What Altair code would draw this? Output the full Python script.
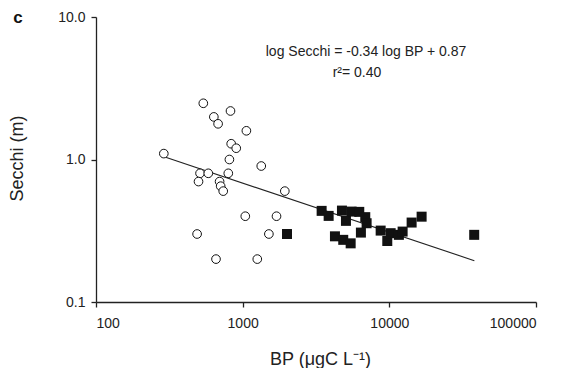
import altair as alt
import pandas as pd

# Open circles
circle_bp = [290, 539, 636, 680, 826, 1060, 835, 904, 812, 1339, 512, 583, 798,
             500, 696, 708, 737, 1938, 1042, 1701, 489, 1509, 658, 1258]
circle_secchi = [1.10, 2.48, 1.99, 1.78, 2.19, 1.59, 1.29, 1.20, 1.00, 0.90, 0.80, 0.80, 0.80,
                 0.70, 0.70, 0.65, 0.60, 0.60, 0.40, 0.40, 0.30, 0.30, 0.20, 0.20]

# Filled squares
square_bp = [2005, 3455, 3857, 4753, 5061, 5533, 6237, 6853, 7000, 6400, 4258, 4850, 5449,
             8727, 9683, 10210, 11620, 12320, 14190, 16600, 37900]
square_secchi = [0.30, 0.436, 0.402, 0.438, 0.371, 0.431, 0.429, 0.394, 0.357, 0.307, 0.289, 0.273, 0.258,
                 0.317, 0.268, 0.304, 0.296, 0.312, 0.361, 0.397, 0.296]

# Regression line endpoints
line_bp = [295, 38000]
line_secchi = [1.04, 0.195]

x_ticks = [100, 1000, 10000, 100000]
y_ticks = [0.1, 1.0, 10.0]

FONT = "Liberation Sans"

circ = pd.DataFrame({"bp": circle_bp, "secchi": circle_secchi})
sq = pd.DataFrame({"bp": square_bp, "secchi": square_secchi})
ln = pd.DataFrame({"bp": line_bp, "secchi": line_secchi})

xscale = alt.Scale(type="log", domain=[100, 100000], nice=False)
yscale = alt.Scale(type="log", domain=[0.1, 10], nice=False)

xenc = alt.X("bp:Q", scale=xscale, axis=alt.Axis(
    values=x_ticks, format="d", title="BP (μgC L⁻¹)", grid=False,
    tickSize=5, labelPadding=9, labelFontSize=14, labelFont=FONT, labelColor="#222",
    titleFont=FONT, titleFontSize=18, titleFontWeight="normal", titleColor="#222",
    titleX=224, titleY=57, titleBaseline="middle",
    domainColor="#222", tickColor="#222", domainWidth=1.3, tickWidth=1.3))
yenc = alt.Y("secchi:Q", scale=yscale, axis=alt.Axis(
    values=y_ticks, format=".1f", title="Secchi (m)", grid=False,
    tickSize=5, labelPadding=6, labelFontSize=14, labelFont=FONT, labelColor="#222",
    titleFont=FONT, titleFontSize=18, titleFontWeight="normal", titleColor="#222",
    titleX=-79, titleY=141, titleBaseline="middle", titleAlign="center", titleAngle=-90,
    domainColor="#222", tickColor="#222", domainWidth=1.3, tickWidth=1.3))

line = alt.Chart(ln).mark_line(color="#222", strokeWidth=1.1).encode(x=xenc, y=yenc)
circles = alt.Chart(circ).mark_point(shape="circle", fill="white", stroke="#111",
                                      strokeWidth=1, size=75, opacity=1, filled=False
                                      ).encode(x="bp:Q", y="secchi:Q")
squares = alt.Chart(sq).mark_square(size=100, color="#111", opacity=1).encode(x="bp:Q", y="secchi:Q")

eq = alt.Chart(pd.DataFrame({"t": ["log Secchi = -0.34 log BP + 0.87"]})).mark_text(
    font=FONT, fontSize=14, color="#222", align="center", baseline="middle"
).encode(x=alt.value(270), y=alt.value(35), text="t:N")
r2 = alt.Chart(pd.DataFrame({"t": ["r²= 0.40"]})).mark_text(
    font=FONT, fontSize=14, color="#222", align="center", baseline="middle"
).encode(x=alt.value(261), y=alt.value(56), text="t:N")
letter = alt.Chart(pd.DataFrame({"t": ["c"]})).mark_text(
    font=FONT, fontSize=17, fontWeight="bold", color="#111", align="center", baseline="middle"
).encode(x=alt.value(-78), y=alt.value(1), text="t:N")

chart = alt.layer(line, circles, squares, eq, r2, letter).properties(
    width=440, height=285,
    autosize=alt.AutoSizeParams(type="none"),
    padding={"left": 88, "top": 9, "right": 20, "bottom": 66},
    background="white",
).configure_view(stroke=None)

chart.save("out.html", embed_options={"renderer": "svg", "actions": False})
